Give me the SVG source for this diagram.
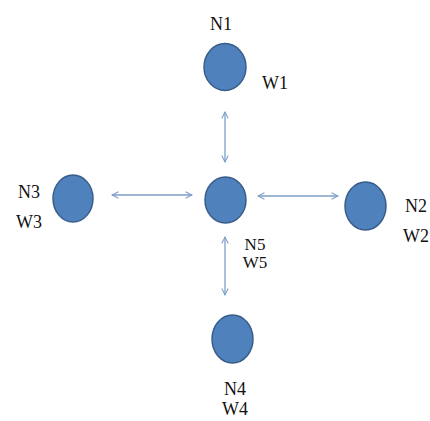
<svg xmlns="http://www.w3.org/2000/svg" width="430" height="421" viewBox="0 0 430 421">
  <style>
    .node { fill: #4F81BD; stroke: #385D8A; stroke-width: 1.5; }
    .lbl { font-family: "Liberation Serif", "Times New Roman", serif; font-size: 18px; fill: #111; }
    .tight { font-size: 17px; }
    .link { stroke: #7E9EC6; stroke-width: 1.3; fill: none; marker-start: url(#tip); marker-end: url(#tip); }
  </style>
  <defs>
    <marker id="tip" viewBox="0 0 10 10" refX="9" refY="5" markerWidth="8" markerHeight="8" markerUnits="userSpaceOnUse" orient="auto-start-reverse">
      <path d="M1,1 L9,5 L1,9" fill="none" stroke="#7E9EC6" stroke-width="1.3"/>
    </marker>
  </defs>
  <rect width="430" height="421" fill="#fff"/>

  <g id="connectors">
    <line class="link" x1="225" y1="112" x2="225" y2="162"/>
    <line class="link" x1="225" y1="237" x2="225" y2="295"/>
    <line class="link" x1="112" y1="195" x2="192" y2="195"/>
    <line class="link" x1="258" y1="196" x2="338" y2="196"/>
  </g>

  <g id="n1">
    <ellipse class="node" cx="225" cy="67" rx="21" ry="23.5"/>
    <text class="lbl" x="221" y="30" text-anchor="middle">N1</text>
    <text class="lbl" x="275" y="89" text-anchor="middle">W1</text>
  </g>
  <g id="n2">
    <ellipse class="node" cx="365.5" cy="206" rx="20.5" ry="24"/>
    <text class="lbl" x="416" y="212" text-anchor="middle">N2</text>
    <text class="lbl" x="416" y="242" text-anchor="middle">W2</text>
  </g>
  <g id="n3">
    <ellipse class="node" cx="73" cy="198.5" rx="20" ry="23.5"/>
    <text class="lbl" x="29" y="198" text-anchor="middle">N3</text>
    <text class="lbl" x="29" y="228" text-anchor="middle">W3</text>
  </g>
  <g id="n4">
    <ellipse class="node" cx="232.5" cy="339" rx="20.5" ry="24"/>
    <text class="lbl" x="235" y="395" text-anchor="middle">N4</text>
    <text class="lbl" x="235" y="415" text-anchor="middle">W4</text>
  </g>
  <g id="n5">
    <ellipse class="node" cx="225.5" cy="200" rx="20.5" ry="23"/>
    <text class="lbl tight" x="255" y="250" text-anchor="middle">N5</text>
    <text class="lbl tight" x="255" y="268" text-anchor="middle">W5</text>
  </g>
</svg>
